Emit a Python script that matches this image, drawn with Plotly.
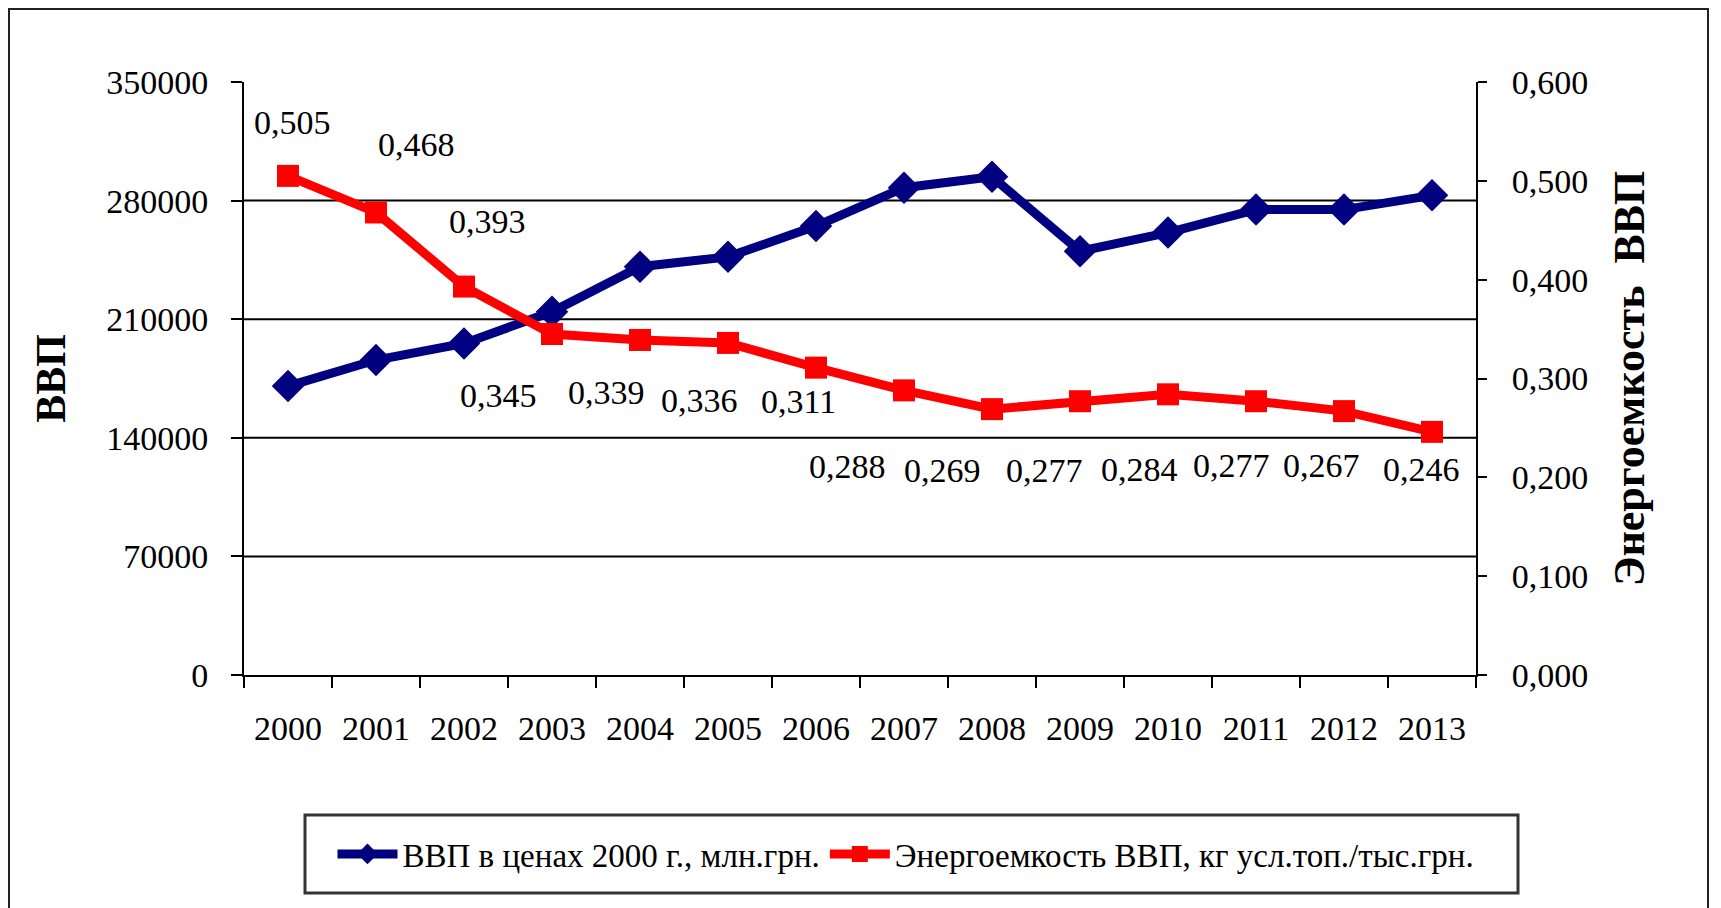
import plotly.graph_objects as go

years = ["2000", "2001", "2002", "2003", "2004", "2005", "2006",
         "2007", "2008", "2009", "2010", "2011", "2012", "2013"]
gdp = [170500, 185900, 195700, 214400, 241000, 246800, 265000,
       287600, 294100, 250100, 261100, 274700, 274700, 283100]
energy = [0.505, 0.468, 0.393, 0.345, 0.339, 0.336, 0.311,
          0.288, 0.269, 0.277, 0.284, 0.277, 0.267, 0.246]
energy_labels = ["0,505", "0,468", "0,393", "0,345", "0,339", "0,336", "0,311",
                 "0,288", "0,269", "0,277", "0,284", "0,277", "0,267", "0,246"]
left_ticks = [0, 70000, 140000, 210000, 280000, 350000]
left_grid = [70000, 140000, 210000, 280000]
right_ticks = [0.0, 0.1, 0.2, 0.3, 0.4, 0.5, 0.6]

# label offsets in pixels (dx right, dy down) as placed in the original
label_dx = [4, 40, 23, -54, -34, -29, -18, -57, -50, -36, -29, -25, -23, -11]
label_dy = [-53, -68, -65, 61, 53, 58, 34, 76, 61, 69, 75, 64, 54, 38]

FONT = "Liberation Serif"
BLUE = "#000080"
RED = "#FF0000"
FS = 34

# page body adds an 8px margin, so the figure is 8px smaller
W, H = 1713, 900
L, R, T, B = 236, 245, 74, 233
pw, ph = W - L - R, H - T - B
bottom_px = H - B


def px_x(px):
    return (px - L) / pw


def px_y(py):
    return (bottom_px - py) / ph


xpos = list(range(len(years)))

fig = go.Figure()
fig.add_trace(go.Scatter(
    x=xpos, y=gdp, name="ВВП в ценах 2000 г., млн.грн.",
    mode="lines+markers", line=dict(color=BLUE, width=9),
    marker=dict(symbol="diamond", size=25, color=BLUE), yaxis="y"))
fig.add_trace(go.Scatter(
    x=xpos, y=energy, name="Энергоемкость ВВП, кг усл.топ./тыс.грн.",
    mode="lines+markers", line=dict(color=RED, width=9),
    marker=dict(symbol="square", size=22, color=RED), yaxis="y2"))

for xi, v, t, dx, dy in zip(xpos, energy, energy_labels, label_dx, label_dy):
    fig.add_annotation(x=xi, y=v, xref="x", yref="y2", text=t, showarrow=False,
                       xshift=dx, yshift=-dy,
                       font=dict(family=FONT, size=FS, color="black"))

shapes = []
for g in left_grid:
    shapes.append(dict(type="line", xref="paper", yref="y", x0=0, x1=1, y0=g, y1=g,
                       line=dict(color="black", width=2), layer="below"))
# outer frame of the chart (bottom edge lies below the visible page)
shapes.append(dict(type="rect", xref="paper", yref="paper",
                   x0=px_x(1), x1=px_x(1700), y0=px_y(905), y1=px_y(1),
                   line=dict(color="#222222", width=2)))
# legend frame
shapes.append(dict(type="rect", xref="paper", yref="paper",
                   x0=px_x(297), x1=px_x(1510), y0=px_y(885), y1=px_y(807),
                   line=dict(color="#333333", width=3), fillcolor="rgba(0,0,0,0)"))

fig.update_layout(
    width=W, height=H,
    margin=dict(l=L, r=R, t=T, b=B),
    paper_bgcolor="white", plot_bgcolor="white",
    separators=",.",
    font=dict(family=FONT, size=FS, color="black"),
    showlegend=True,
    legend=dict(orientation="h", x=px_x(898), xanchor="center",
                y=px_y(846), yanchor="middle",
                bgcolor="rgba(0,0,0,0)", borderwidth=0,
                font=dict(family=FONT, size=FS - 1, color="black"),
                itemwidth=60, tracegroupgap=0),
    shapes=shapes,
    xaxis=dict(range=[-0.5, len(years) - 0.5], tickmode="array", tickvals=xpos,
               ticktext=years, ticks="", showline=True, linecolor="black",
               linewidth=2, showgrid=False, zeroline=False, ticklabelstandoff=22,
               tickangle=0,
               minor=dict(tick0=-0.5, dtick=1, ticks="outside", ticklen=11,
                          tickwidth=2, tickcolor="black", showgrid=False),
               tickfont=dict(family=FONT, size=FS, color="black")),
    yaxis=dict(range=[0, 350000], tickvals=left_ticks, tickformat="d",
               ticks="outside", ticklen=11, tickwidth=2, tickcolor="black",
               showline=True, linecolor="black", linewidth=2, showgrid=False,
               zeroline=False, ticklabelstandoff=16,
               tickfont=dict(family=FONT, size=FS, color="black"),
               title=dict(text="ВВП", standoff=28,
                          font=dict(family=FONT, size=42, color="black", weight="bold"))),
    yaxis2=dict(range=[0, 0.6], tickvals=right_ticks, tickformat=".3f",
                overlaying="y", side="right",
                ticks="outside", ticklen=9, tickwidth=2, tickcolor="black",
                showline=True, linecolor="black", linewidth=2, showgrid=False,
                zeroline=False, ticklabelstandoff=18,
                tickfont=dict(family=FONT, size=FS, color="black"),
                title=dict(text="Энергоемкость\u00a0\u00a0ВВП", standoff=26,
                           font=dict(family=FONT, size=44, color="black", weight="bold"))),
    yaxis3=dict(range=[0, 0.6], tickvals=right_ticks, overlaying="y", side="right",
                ticks="inside", ticklen=9, tickwidth=2, tickcolor="black",
                showticklabels=False, showline=False, showgrid=False, zeroline=False),
)

fig.write_html("out.html")
